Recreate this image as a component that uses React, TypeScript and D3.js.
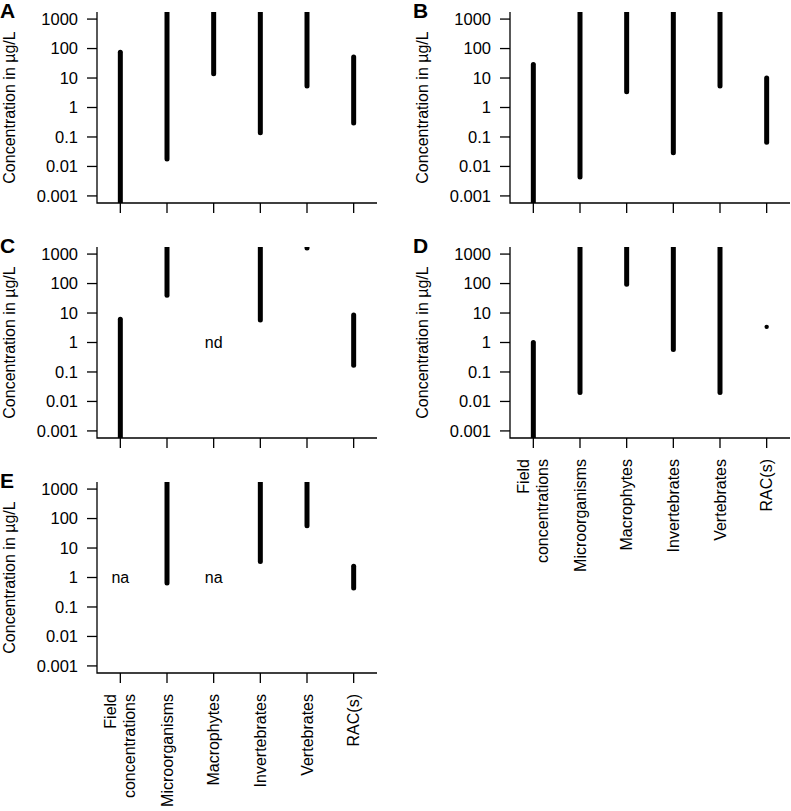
import React from "react";
import * as d3 from "d3";

const width = 791;
const height = 811;

// categories on the x axis (multi-line labels split by "\n")
const categories = [
  "Field\nconcentrations",
  "Microorganisms",
  "Macrophytes",
  "Invertebrates",
  "Vertebrates",
  "RAC(s)"
];

const yTicks = [0.001, 0.01, 0.1, 1, 10, 100, 1000];
const yTickLabels = ["0.001", "0.01", "0.1", "1", "10", "100", "1000"];

// ranges per panel (null = no data); values outside the axis are clipped
const lowA = [0.0001, 0.018, 14, 0.14, 5.4, 0.3];
const highA = [75, 100000, 100000, 100000, 100000, 52];

const lowB = [0.0001, 0.0044, 3.4, 0.029, 5.4, 0.066];
const highB = [29, 100000, 100000, 100000, 100000, 10];

const lowC = [0.0001, 40, null, 5.8, 1600, 0.17];
const highC = [6.1, 100000, null, 100000, 100000, 8.5];
const notesC = [null, null, "nd", null, null, null];

const lowD = [0.0001, 0.02, 95, 0.58, 0.02, 3.4];
const highD = [1.0, 100000, 100000, 100000, 100000, 3.4];

const lowE = [null, 0.65, null, 3.5, 57, 0.44];
const highE = [null, 100000, null, 100000, 100000, 2.4];
const notesE = ["na", null, "na", null, null, null];

const panels = [
  { id: "A", low: lowA, high: highA, notes: [], left: 97, top: 12, xLabels: false },
  { id: "B", low: lowB, high: highB, notes: [], left: 510, top: 12, xLabels: false },
  { id: "C", low: lowC, high: highC, notes: notesC, left: 97, top: 247, xLabels: false },
  { id: "D", low: lowD, high: highD, notes: [], left: 510, top: 247, xLabels: true },
  { id: "E", low: lowE, high: highE, notes: notesE, left: 97, top: 482, xLabels: true }
];

const plotW = 280;
const plotH = 191;
const font = "'Liberation Sans', Arial, Helvetica, sans-serif";

const x = d3.scaleLinear().domain([0.5, 6.5]).range([0, plotW]);
const y = d3
  .scaleLog()
  .domain([Math.pow(10, -3.24), Math.pow(10, 3.24)])
  .range([plotH, 0]);

function Panel({ p }: { p: any }) {
  const clipId = `clip-${p.id}`;
  return (
    <g transform={`translate(${p.left},${p.top})`}>
      <defs>
        <clipPath id={clipId}>
          <rect x={0} y={0} width={plotW} height={plotH} />
        </clipPath>
      </defs>
      {/* panel letter */}
      <text x={-97} y={6} fontSize={21} fontWeight="bold" fontFamily={font}>
        {p.id}
      </text>
      {/* y label */}
      <text
        transform={`translate(${-82},${plotH / 2}) rotate(-90)`}
        textAnchor="middle"
        fontSize={16}
        fontFamily={font}
      >
        Concentration in µg/L
      </text>
      {/* L-shaped box */}
      <path d={`M0,0V${plotH}H${plotW}`} fill="none" stroke="#000" strokeWidth={1.3} />
      {/* y ticks */}
      {yTicks.map((t, i) => (
        <g key={t} transform={`translate(0,${y(t)})`}>
          <line x1={-10} x2={0} stroke="#000" strokeWidth={1.3} />
          <text x={-19} dy="0.35em" textAnchor="end" fontSize={16.5} fontFamily={font}>
            {yTickLabels[i]}
          </text>
        </g>
      ))}
      {/* x ticks */}
      {categories.map((c, i) => {
        const cx = x(i + 1);
        const lines = c.split("\n");
        return (
          <g key={c}>
            <line x1={cx} x2={cx} y1={plotH} y2={plotH + 10} stroke="#000" strokeWidth={1.3} />
            {p.xLabels &&
              lines.map((ln, j) => (
                <text
                  key={ln}
                  transform={`translate(${cx + (lines.length === 1 ? 5.5 : j === 0 ? -4 : 15)},${plotH + 21}) rotate(-90)`}
                  textAnchor="end"
                  fontSize={16}
                  fontFamily={font}
                >
                  {ln}
                </text>
              ))}
          </g>
        );
      })}
      {/* ranges */}
      <g clipPath={`url(#${clipId})`}>
        {p.low.map((lo: number | null, i: number) => {
          const hi = p.high[i];
          if (lo == null || hi == null) return null;
          const cx = x(i + 1);
          if (lo === hi) {
            return <circle key={i} cx={cx} cy={y(lo)} r={2.2} fill="#000" />;
          }
          return (
            <line
              key={i}
              x1={cx}
              x2={cx}
              y1={y(hi)}
              y2={y(lo)}
              stroke="#000"
              strokeWidth={5}
              strokeLinecap="round"
            />
          );
        })}
      </g>
      {/* notes (nd / na) */}
      {p.notes.map((n: string | null, i: number) =>
        n ? (
          <text
            key={i}
            x={x(i + 1)}
            y={y(1)}
            dy="0.35em"
            textAnchor="middle"
            fontSize={16}
            fontFamily={font}
          >
            {n}
          </text>
        ) : null
      )}
    </g>
  );
}

export default function App() {
  return (
    <svg
      width={width}
      height={height}
      style={{ position: "absolute", left: 0, top: 0, background: "#fff" }}
    >
      {panels.map((p) => (
        <Panel key={p.id} p={p} />
      ))}
    </svg>
  );
}
